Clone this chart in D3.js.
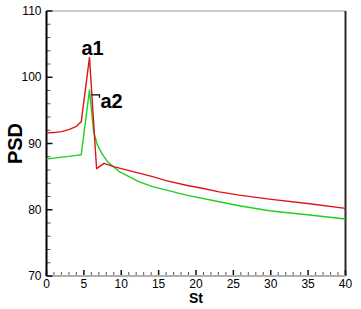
<!DOCTYPE html>
<html>
<head>
<meta charset="utf-8">
<script src="https://cdn.jsdelivr.net/npm/d3@7"></script>
<style>
    body { margin: 0; background: #fff; }
    svg { display: block; font-family: Arial, "Liberation Sans", sans-serif; }
    .line { fill: none; stroke-width: 1.4; stroke-linejoin: round; }
</style>
</head>
<body>
<svg id="chart" width="361" height="309"></svg>
<script>
var X_TICKS = [0, 5, 10, 15, 20, 25, 30, 35, 40]
var Y_TICKS = [70, 80, 90, 100, 110]

var RED_ST = [0, 1, 2, 3, 4, 4.65, 5.75, 6.7, 7.7, 9, 10, 12.5, 14.2, 16, 18.7, 21, 23.1, 25.8, 29.8, 35.2, 40]
var RED_PSD = [91.6, 91.65, 91.8, 92.1, 92.6, 93.3, 103.0, 86.2, 87.0, 86.5, 86.2, 85.5, 85.0, 84.4, 83.7, 83.2, 82.7, 82.2, 81.6, 80.9, 80.2]

var GREEN_ST = [0, 1, 2, 3, 4, 4.65, 5.75, 6.3, 6.8, 7.4, 8.2, 9.8, 12.4, 14.2, 18.7, 23.1, 25.8, 29.8, 35.2, 40]
var GREEN_PSD = [87.65, 87.8, 87.95, 88.05, 88.2, 88.3, 98.1, 91.8, 89.8, 88.5, 87.2, 85.7, 84.2, 83.5, 82.2, 81.2, 80.6, 79.85, 79.2, 78.6]

var LABELS = ["a1", "a2"]

var svg = d3.select("#chart");

var x = d3.scaleLinear().domain([0, 40]).range([46.5, 345.5]);
var y = d3.scaleLinear().domain([70, 110]).range([276, 11]);

// frame: light top, dark right
svg.append("line")
    .attr("x1", x(0)).attr("x2", x(40))
    .attr("y1", y(110)).attr("y2", y(110))
    .attr("stroke", "#9a9a9a").attr("stroke-width", 1);
svg.append("line")
    .attr("x1", x(40)).attr("x2", x(40))
    .attr("y1", y(110)).attr("y2", y(70))
    .attr("stroke", "#2a2a2a").attr("stroke-width", 2);

// bottom axis, ticks point up into the plot
var xAxis = svg.append("g").attr("transform", "translate(0," + y(70) + ")");
xAxis.selectAll(".minor")
    .data(d3.range(0, 41, 1).filter(function(d) { return d % 5 != 0; }))
    .enter().append("line")
    .attr("x1", function(d) { return x(d); })
    .attr("x2", function(d) { return x(d); })
    .attr("y1", 0).attr("y2", -4)
    .attr("stroke", "#555").attr("stroke-width", 1);
xAxis.selectAll(".major")
    .data(X_TICKS)
    .enter().append("line")
    .attr("x1", function(d) { return x(d); })
    .attr("x2", function(d) { return x(d); })
    .attr("y1", 0).attr("y2", -6)
    .attr("stroke", "#111").attr("stroke-width", 1.5);
xAxis.append("line")
    .attr("x1", x(0)).attr("x2", x(40))
    .attr("y1", 0).attr("y2", 0)
    .attr("stroke", "#b0b0b0").attr("stroke-width", 2);
xAxis.selectAll("text")
    .data(X_TICKS)
    .enter().append("text")
    .attr("x", function(d) { return x(d); })
    .attr("y", 12)
    .attr("text-anchor", "middle")
    .attr("font-size", 12)
    .text(function(d) { return d; });

// left axis, ticks point right
var yAxis = svg.append("g").attr("transform", "translate(" + x(0) + ",0)");
yAxis.selectAll(".minor")
    .data(d3.range(70, 111, 2).filter(function(d) { return d % 10 != 0; }))
    .enter().append("line")
    .attr("x1", 0).attr("x2", 4)
    .attr("y1", function(d) { return y(d); })
    .attr("y2", function(d) { return y(d); })
    .attr("stroke", "#555").attr("stroke-width", 1);
yAxis.selectAll(".major")
    .data(Y_TICKS)
    .enter().append("line")
    .attr("x1", 0).attr("x2", 6)
    .attr("y1", function(d) { return y(d); })
    .attr("y2", function(d) { return y(d); })
    .attr("stroke", "#111").attr("stroke-width", 1.5);
yAxis.append("line")
    .attr("x1", 0).attr("x2", 0)
    .attr("y1", y(110)).attr("y2", y(70))
    .attr("stroke", "#000").attr("stroke-width", 2);
yAxis.selectAll("text")
    .data(Y_TICKS)
    .enter().append("text")
    .attr("x", -5)
    .attr("y", function(d) { return y(d) + 4; })
    .attr("text-anchor", "end")
    .attr("font-size", 12)
    .text(function(d) { return d; });

// axis titles
svg.append("text")
    .attr("transform", "translate(22," + ((y(70) + y(110)) / 2) + ") rotate(-90)")
    .attr("text-anchor", "middle")
    .attr("font-size", 20)
    .attr("font-weight", "bold")
    .text("PSD");
svg.append("text")
    .attr("x", (x(0) + x(40)) / 2)
    .attr("y", 303)
    .attr("text-anchor", "middle")
    .attr("font-size", 14)
    .attr("font-weight", "bold")
    .text("St");

// curves
var line = d3.line()
    .x(function(d) { return x(d[0]); })
    .y(function(d) { return y(d[1]); });

svg.append("path")
    .attr("class", "line")
    .attr("stroke", "#1fcf1f")
    .attr("d", line(d3.zip(GREEN_ST, GREEN_PSD)));
svg.append("path")
    .attr("class", "line")
    .attr("stroke", "#dd1515")
    .attr("d", line(d3.zip(RED_ST, RED_PSD)));

// peak labels
var redPeak = d3.maxIndex(RED_PSD);
var greenPeak = d3.maxIndex(GREEN_PSD);
svg.append("text")
    .attr("x", x(RED_ST[redPeak]) - 8)
    .attr("y", y(RED_PSD[redPeak]) - 2)
    .attr("font-size", 20)
    .attr("font-weight", "bold")
    .text(LABELS[0]);
svg.append("path")
    .attr("fill", "none")
    .attr("stroke", "#000")
    .attr("stroke-width", 1.2)
    .attr("d", "M" + (x(GREEN_ST[greenPeak]) + 2) + "," + (y(GREEN_PSD[greenPeak]) + 5)
        + "h8v3");
svg.append("text")
    .attr("x", x(GREEN_ST[greenPeak]) + 11)
    .attr("y", y(GREEN_PSD[greenPeak]) + 18)
    .attr("font-size", 20)
    .attr("font-weight", "bold")
    .text(LABELS[1]);
</script>
</body>
</html>
